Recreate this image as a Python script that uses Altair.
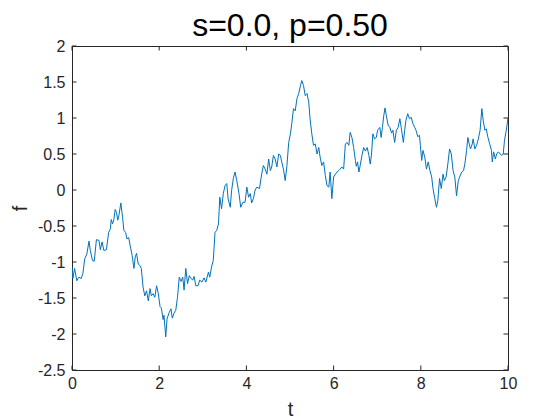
import altair as alt
import pandas as pd

t = [0.00, 0.02, 0.06, 0.11, 0.16, 0.21, 0.25, 0.29, 0.34, 0.39, 0.42, 0.47, 0.51, 0.56, 0.62, 0.65,
     0.69, 0.73, 0.79, 0.84, 0.88, 0.90, 0.93, 0.96, 0.99, 1.02, 1.05, 1.08, 1.12, 1.16, 1.19, 1.23,
     1.26, 1.30, 1.34, 1.38, 1.42, 1.45, 1.48, 1.52, 1.56, 1.59, 1.63, 1.67, 1.71, 1.75, 1.79, 1.82,
     1.86, 1.90, 1.94, 1.98, 2.02, 2.05, 2.09, 2.11, 2.15, 2.18, 2.23, 2.27, 2.30, 2.34, 2.38, 2.42,
     2.46, 2.50, 2.54, 2.57, 2.61, 2.65, 2.69, 2.73, 2.77, 2.80, 2.84, 2.89, 2.93, 2.98, 3.03, 3.07,
     3.13, 3.16, 3.20, 3.24, 3.28, 3.32, 3.36, 3.39,
     3.43, 3.47, 3.51, 3.55, 3.58, 3.63, 3.66, 3.70, 3.74, 3.78, 3.83, 3.87, 3.92, 3.97, 4.01, 4.05,
     4.09, 4.12, 4.16, 4.20, 4.24, 4.30, 4.35, 4.39, 4.43, 4.47, 4.51, 4.55, 4.58, 4.62, 4.66, 4.70,
     4.74, 4.78, 4.81, 4.85, 4.89, 4.93, 4.97, 5.01, 5.04, 5.08, 5.12, 5.16, 5.20, 5.24, 5.27, 5.31,
     5.35, 5.39, 5.43, 5.46, 5.50, 5.54, 5.58, 5.62, 5.66, 5.69, 5.73, 5.77, 5.81, 5.85, 5.89, 5.92,
     5.96, 6.00, 6.04, 6.08, 6.12, 6.15, 6.19, 6.23, 6.27, 6.31, 6.35, 6.38,
     6.42, 6.46, 6.50, 6.52, 6.55, 6.58, 6.61, 6.65, 6.69, 6.73, 6.77, 6.81, 6.84, 6.87, 6.90, 6.94,
     6.98, 7.01, 7.06, 7.09, 7.12, 7.15, 7.18, 7.21, 7.25, 7.29, 7.33, 7.36, 7.40, 7.44, 7.48, 7.52,
     7.55, 7.60, 7.63, 7.66, 7.70, 7.74, 7.78, 7.82, 7.86, 7.89, 7.93, 7.97, 7.99, 8.02, 8.05, 8.09,
     8.13, 8.17, 8.21, 8.25, 8.28, 8.32, 8.36, 8.39, 8.43, 8.47, 8.51, 8.54, 8.58, 8.62, 8.66, 8.70,
     8.74, 8.78, 8.82, 8.86, 8.89, 8.94, 8.98, 9.01, 9.05, 9.08, 9.11, 9.14, 9.18, 9.20, 9.24, 9.28,
     9.32, 9.36, 9.40, 9.43, 9.47, 9.50, 9.54, 9.58, 9.62, 9.64, 9.67, 9.71, 9.74, 9.78, 9.82, 9.86,
     9.89, 9.92, 9.96, 10.00]

f = [-1.07, -1.23, -1.09, -1.26, -1.21, -1.23, -1.16, -0.96, -0.89, -0.71, -0.84, -0.98, -0.99, -0.69, -0.70, -0.83,
     -0.72, -0.84, -0.83, -0.59, -0.54, -0.41, -0.47, -0.41, -0.27, -0.31, -0.42, -0.34, -0.18, -0.38, -0.56, -0.59,
     -0.68, -0.66, -0.79, -0.91, -1.09, -0.93, -0.88, -1.03, -1.05, -1.09, -1.35, -1.47, -1.40, -1.54, -1.37, -1.47,
     -1.44, -1.49, -1.33, -1.44, -1.62, -1.64, -1.80, -1.74, -2.04, -1.79, -1.70, -1.65, -1.78, -1.71, -1.67, -1.49,
     -1.21, -1.27, -1.21, -1.39, -1.09, -1.30, -1.19, -1.23, -1.25, -1.20, -1.33, -1.33, -1.25, -1.28, -1.22, -1.28,
     -1.14, -1.21, -1.07, -0.98, -0.59, -0.56, -0.47, -0.10,
     -0.26, -0.05, 0.06, 0.09, -0.12, -0.24, -0.01, 0.16, 0.25, 0.13, -0.05, -0.24, -0.17, -0.17, 0.04, -0.10,
     -0.05, -0.18, -0.12, 0.00, 0.04, 0.02, 0.22, 0.34, 0.29, 0.22, 0.43, 0.27, 0.32, 0.48, 0.43, 0.32,
     0.50, 0.48, 0.39, 0.29, 0.13, 0.34, 0.66, 0.78, 0.92, 1.13, 1.10, 1.27, 1.34, 1.45, 1.52, 1.45,
     1.31, 1.34, 1.22, 0.99, 0.78, 0.62, 0.64, 0.50, 0.59, 0.46, 0.34, 0.39, 0.20, 0.06, 0.04, 0.25,
     -0.12, 0.18, 0.22, 0.25, 0.27, 0.29, 0.32, 0.29, 0.64, 0.66, 0.62, 0.80,
     0.73, 0.59, 0.41, 0.33, 0.39, 0.25, 0.34, 0.48, 0.59, 0.54, 0.59, 0.48, 0.36, 0.50, 0.78, 0.71,
     0.73, 0.83, 0.87, 0.73, 0.87, 1.03, 1.14, 1.03, 0.90, 0.87, 0.79, 0.83, 0.66, 0.83, 0.87, 0.99,
     0.87, 0.66, 0.83, 0.97, 1.06, 0.99, 1.01, 0.92, 0.87, 0.83, 0.74, 0.76, 0.62, 0.41, 0.55, 0.46,
     0.29, 0.39, 0.27, 0.18, 0.02, -0.12, -0.24, -0.15, 0.16, 0.02, 0.22, 0.13, 0.18, 0.36, 0.57, 0.50,
     0.27, 0.18, -0.08, 0.13, 0.18, 0.25, 0.27, 0.36, 0.55, 0.73, 0.64, 0.57, 0.64, 0.71, 0.57, 0.62,
     0.71, 0.83, 1.13, 0.97, 0.83, 0.85, 0.73, 0.64, 0.55, 0.39, 0.53, 0.43, 0.50, 0.53, 0.50, 0.48,
     0.50, 0.69, 0.83, 1.00]

x_ticks = [0, 2, 4, 6, 8, 10]
y_ticks = [-2.5, -2, -1.5, -1, -0.5, 0, 0.5, 1, 1.5, 2]

W, H = 436, 324
TL = 4.5
FONT = "Liberation Sans"
INK = "#262626"

df = pd.DataFrame({"t": t, "f": f})
xt = pd.DataFrame({"t": x_ticks})
yt = pd.DataFrame({"f": y_ticks})

xs = alt.Scale(domain=[0, 10], nice=False, zero=False)
ys = alt.Scale(domain=[-2.5, 2], nice=False, zero=False)

ax_x = alt.Axis(
    values=x_ticks, title="t", ticks=False, domain=False, grid=False,
    labelPadding=5, labelFontSize=16, labelFont=FONT, labelColor=INK,
    labelExpr="'' + datum.value", labelFlush=False, labelOverlap=False,
    titleFontSize=20, titleFont=FONT, titleFontWeight="normal", titleColor=INK,
    titleX=W / 2, titleY=45, titleBaseline="alphabetic", titleAlign="center")
ax_y = alt.Axis(
    values=y_ticks, title="f", ticks=False, domain=False, grid=False,
    labelPadding=7, labelFontSize=16, labelFont=FONT, labelColor=INK,
    labelExpr="'' + datum.value", labelFlush=False, labelOverlap=False,
    titleFontSize=20, titleFont=FONT, titleFontWeight="normal", titleColor=INK,
    titleX=-46, titleY=H / 2, titleBaseline="alphabetic", titleAlign="center",
    titleAngle=270)

line = alt.Chart(df).mark_line(color="#0072BD", strokeWidth=1, clip=True).encode(
    x=alt.X("t:Q", scale=xs, axis=ax_x),
    y=alt.Y("f:Q", scale=ys, axis=ax_y),
)

tick_style = dict(color=INK, strokeWidth=1)
top_t = alt.Chart(xt).mark_rule(**tick_style).encode(
    x=alt.X("t:Q", scale=xs, axis=ax_x), y=alt.value(0), y2=alt.value(TL))
bot_t = alt.Chart(xt).mark_rule(**tick_style).encode(
    x=alt.X("t:Q", scale=xs, axis=ax_x), y=alt.value(H), y2=alt.value(H - TL))
left_t = alt.Chart(yt).mark_rule(**tick_style).encode(
    y=alt.Y("f:Q", scale=ys, axis=ax_y), x=alt.value(0), x2=alt.value(TL))
right_t = alt.Chart(yt).mark_rule(**tick_style).encode(
    y=alt.Y("f:Q", scale=ys, axis=ax_y), x=alt.value(W), x2=alt.value(W - TL))

chart = alt.layer(line, top_t, bot_t, left_t, right_t).properties(
    width=W, height=H,
    title=alt.TitleParams("s=0.0, p=0.50", fontSize=32, font=FONT, fontWeight="normal",
                          color="black", anchor="middle", offset=0, dy=5),
    autosize=alt.AutoSizeParams(type="none"),
    padding={"left": 64, "top": 38, "right": 44, "bottom": 56},
).configure(background="white").configure_view(stroke=INK, strokeWidth=1)

chart.save("out.html", embed_options={"renderer": "svg", "actions": False})
